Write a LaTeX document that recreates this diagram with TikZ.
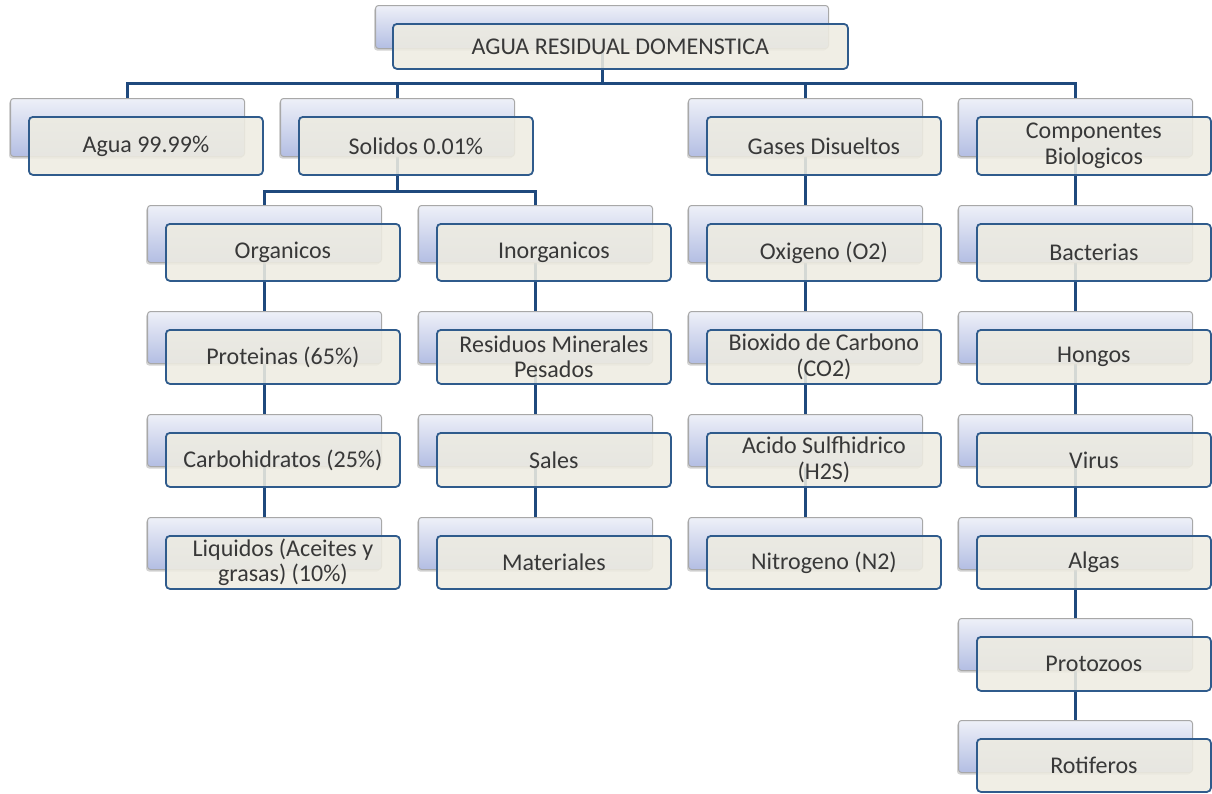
\documentclass[tikz,border=0pt]{standalone}
\usepackage{fontspec}
\setmainfont{Carlito}
\usetikzlibrary{shadows}
\pgfdeclarelayer{bg}
\pgfsetlayers{bg,main}
\definecolor{conncol}{HTML}{1F497D}
\definecolor{frontfill}{HTML}{EEECE1}
\definecolor{frontline}{HTML}{2F5B8C}
\definecolor{backtop}{HTML}{EEF0F8}
\definecolor{backbot}{HTML}{B3BEE3}
\definecolor{backline}{HTML}{A8A8A8}
\definecolor{txt}{HTML}{383838}
\tikzset{
  backbox/.style={rectangle, rounded corners=3pt, draw=backline, line width=1pt,
    top color=backtop, bottom color=backbot, minimum width=234pt, inner sep=0pt,
    drop shadow={shadow xshift=-1.5pt, shadow yshift=-2pt, opacity=0.35}},
  frontbox/.style={rectangle, rounded corners=4pt, draw=frontline, line width=1.8pt,
    fill=frontfill, fill opacity=0.88, text opacity=1, text=txt, minimum width=234pt,
    inner sep=1pt, align=center, font=\fontsize{24}{25.5}\selectfont},
  conn/.style={draw=conncol, line width=3pt}
}
\newcommand\elem[6]{%
  \node[backbox, minimum height=#4pt, anchor=north west] (#1b) at (#2,#3) {};
  \node[frontbox, minimum height=#5pt, anchor=north west] (#1) at ({#2+18},{#3+18}) {#6};
}
\begin{document}
\begin{tikzpicture}[x=1pt,y=-1pt]
\useasboundingbox (0,0) rectangle (1212,793);
% top
\node[backbox, minimum width=453pt, minimum height=43pt, anchor=north west] (topb) at (375,5) {};
\node[frontbox, minimum width=455pt, minimum height=45pt, anchor=north west] (top) at (392,23) {AGUA RESIDUAL DOMENSTICA};
% row 1
\elem{agua}{10}{98}{58}{58}{Agua 99.99\%}
\elem{sol}{280}{98}{58}{58}{Solidos 0.01\%}
\elem{gas}{688}{98}{58}{58}{Gases Disueltos}
\elem{comp}{958}{98}{58}{58}{Componentes\\Biologicos}
% row 2
\elem{org}{147}{205}{57}{57}{Organicos}
\elem{inorg}{418}{205}{57}{57}{Inorganicos}
\elem{oxi}{688}{205}{57}{57}{Oxigeno (O2)}
\elem{bact}{958}{205}{57}{57}{Bacterias}
% row 3
\elem{prot}{147}{311}{52}{54}{Proteinas (65\%)}
\elem{resid}{418}{311}{52}{54}{Residuos Minerales\\Pesados}
\elem{biox}{688}{311}{52}{54}{Bioxido de Carbono\\(CO2)}
\elem{hongos}{958}{311}{52}{54}{Hongos}
% row 4
\elem{carb}{147}{414}{52}{54}{Carbohidratos (25\%)}
\elem{sales}{418}{414}{52}{54}{Sales}
\elem{acido}{688}{414}{52}{54}{Acido Sulfhidrico\\(H2S)}
\elem{virus}{958}{414}{52}{54}{Virus}
% row 5
\elem{liq}{147}{517}{52}{53}{Liquidos (Aceites y\\grasas) (10\%)}
\elem{mat}{418}{517}{52}{53}{Materiales}
\elem{nitro}{688}{517}{52}{53}{Nitrogeno (N2)}
\elem{algas}{958}{517}{52}{53}{Algas}
% row 6-7
\elem{proto}{958}{618}{52}{54}{Protozoos}
\elem{roti}{958}{720}{52}{53}{Rotiferos}
% connectors
\coordinate (bus1) at (0,83);
\coordinate (bus2) at (0,191);
\begin{pgfonlayer}{bg}
\draw[conn] (topb.south) -- (topb.south |- bus1) -| (aguab.north);
\draw[conn] (topb.south |- bus1) -| (solb.north);
\draw[conn] (topb.south |- bus1) -| (gasb.north);
\draw[conn] (topb.south |- bus1) -| (compb.north);
\draw[conn] (solb.south) -- (solb.south |- bus2) -| (orgb.north);
\draw[conn] (solb.south |- bus2) -| (inorgb.north);
\draw[conn] (orgb.south) -- (protb.north);
\draw[conn] (protb.south) -- (carbb.north);
\draw[conn] (carbb.south) -- (liqb.north);
\draw[conn] (inorgb.south) -- (residb.north);
\draw[conn] (residb.south) -- (salesb.north);
\draw[conn] (salesb.south) -- (matb.north);
\draw[conn] (gasb.south) -- (oxib.north);
\draw[conn] (oxib.south) -- (bioxb.north);
\draw[conn] (bioxb.south) -- (acidob.north);
\draw[conn] (acidob.south) -- (nitrob.north);
\draw[conn] (compb.south) -- (bactb.north);
\draw[conn] (bactb.south) -- (hongosb.north);
\draw[conn] (hongosb.south) -- (virusb.north);
\draw[conn] (virusb.south) -- (algasb.north);
\draw[conn] (algasb.south) -- (protob.north);
\draw[conn] (protob.south) -- (rotib.north);
\end{pgfonlayer}
\end{tikzpicture}
\end{document}
